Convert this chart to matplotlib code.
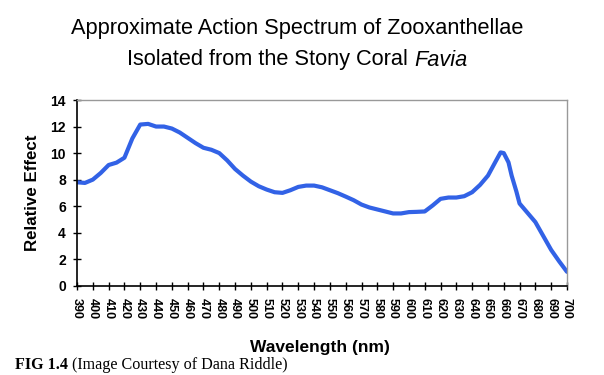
import numpy as np
import matplotlib
matplotlib.use('Agg')
import matplotlib.pyplot as plt

# wavelength (nm) and relative effect
wavelength = [390, 395, 400, 405, 410, 415, 420, 425, 430, 435, 440, 445, 450,
              455, 460, 465, 470, 475, 480, 485, 490, 495, 500, 505, 510, 515,
              520, 525, 530, 535, 540, 545, 550, 555, 560, 565, 570, 575, 580,
              585, 590, 595, 600, 605, 610, 615, 620, 625, 630, 635, 640, 645,
              650, 655, 658, 660, 663, 665, 668, 670, 675, 680, 685, 690, 695, 700]
effect = [7.8, 7.75, 8.0, 8.5, 9.1, 9.28, 9.65, 11.1, 12.15, 12.2, 12.0, 12.0, 11.85,
          11.55, 11.15, 10.75, 10.4, 10.25, 10.0, 9.45, 8.8, 8.3, 7.85, 7.5, 7.25, 7.05,
          7.0, 7.2, 7.45, 7.55, 7.55, 7.42, 7.2, 6.98, 6.72, 6.45, 6.12, 5.9, 5.75,
          5.6, 5.45, 5.45, 5.55, 5.57, 5.6, 6.05, 6.55, 6.65, 6.65, 6.75, 7.05, 7.6,
          8.3, 9.4, 10.05, 10.0, 9.3, 8.3, 7.1, 6.2, 5.5, 4.8, 3.75, 2.7, 1.85, 1.05]

xticks = list(range(390, 701, 10))
yticks = list(range(0, 15, 2))

fig = plt.figure(figsize=(6.04, 3.75), dpi=100)
ax = fig.add_axes([0.1275, 0.238, 0.8112, 0.4953])

ax.plot(wavelength, effect, color='#3262E6', lw=3.0, solid_capstyle='round')

ax.set_xlim(390, 700)
ax.set_ylim(0, 14)
ax.set_xticks(xticks)
ax.set_yticks(yticks)
ax.set_xticklabels([str(t) for t in xticks], rotation=-90,
                   fontfamily=['Liberation Sans Narrow', 'Liberation Sans'],
                   fontweight='bold', fontsize=9)
ax.set_yticklabels([str(t) for t in yticks], fontfamily='Liberation Sans',
                   fontweight='bold', fontsize=10)
ax.tick_params(axis='x', direction='inout', length=6, width=1, pad=6)
ax.tick_params(axis='y', direction='inout', length=6, width=1, pad=5)

for s in ['top', 'right']:
    ax.spines[s].set_color('#999999')
    ax.spines[s].set_linewidth(1)
for s in ['left', 'bottom']:
    ax.spines[s].set_color('black')
    ax.spines[s].set_linewidth(1.2)

ax.set_ylabel('Relative Effect', fontfamily='Liberation Sans', fontweight='bold',
              fontsize=12.2)
ax.yaxis.set_label_coords(-0.075, 0.5)
ax.set_xlabel('Wavelength (nm)', fontfamily='Liberation Sans', fontweight='bold',
              fontsize=12.5)
ax.xaxis.set_label_coords(0.495, -0.29)

fig.text(0.492, 0.925, 'Approximate Action Spectrum of Zooxanthellae',
         ha='center', va='center', fontfamily='Liberation Sans', fontsize=15.7)

# second title line: regular part + italic genus, centred together
t1 = fig.text(0, 0.84, 'Isolated from the Stony Coral ', ha='left', va='center',
              fontfamily='Liberation Sans', fontsize=15.7)
t2 = fig.text(0, 0.84, 'Favia', ha='left', va='center',
              fontfamily='Liberation Sans', fontstyle='italic', fontsize=15.7)
r = fig.canvas.get_renderer()
w1 = t1.get_window_extent(r).width
w2 = t2.get_window_extent(r).width
W = fig.bbox.width
x0 = 0.492 * W - (w1 + w2) / 2
t1.set_x(x0 / W)
t2.set_x((x0 + w1) / W)

fig.text(0.025, 0.027, 'FIG 1.4', ha='left', va='center',
         fontfamily='Liberation Serif', fontweight='bold', fontsize=11.6)
fig.text(0.12, 0.027, '(Image Courtesy of Dana Riddle)', ha='left', va='center',
         fontfamily='Liberation Serif', fontsize=11.6)

fig.savefig('out.png', dpi=100)
